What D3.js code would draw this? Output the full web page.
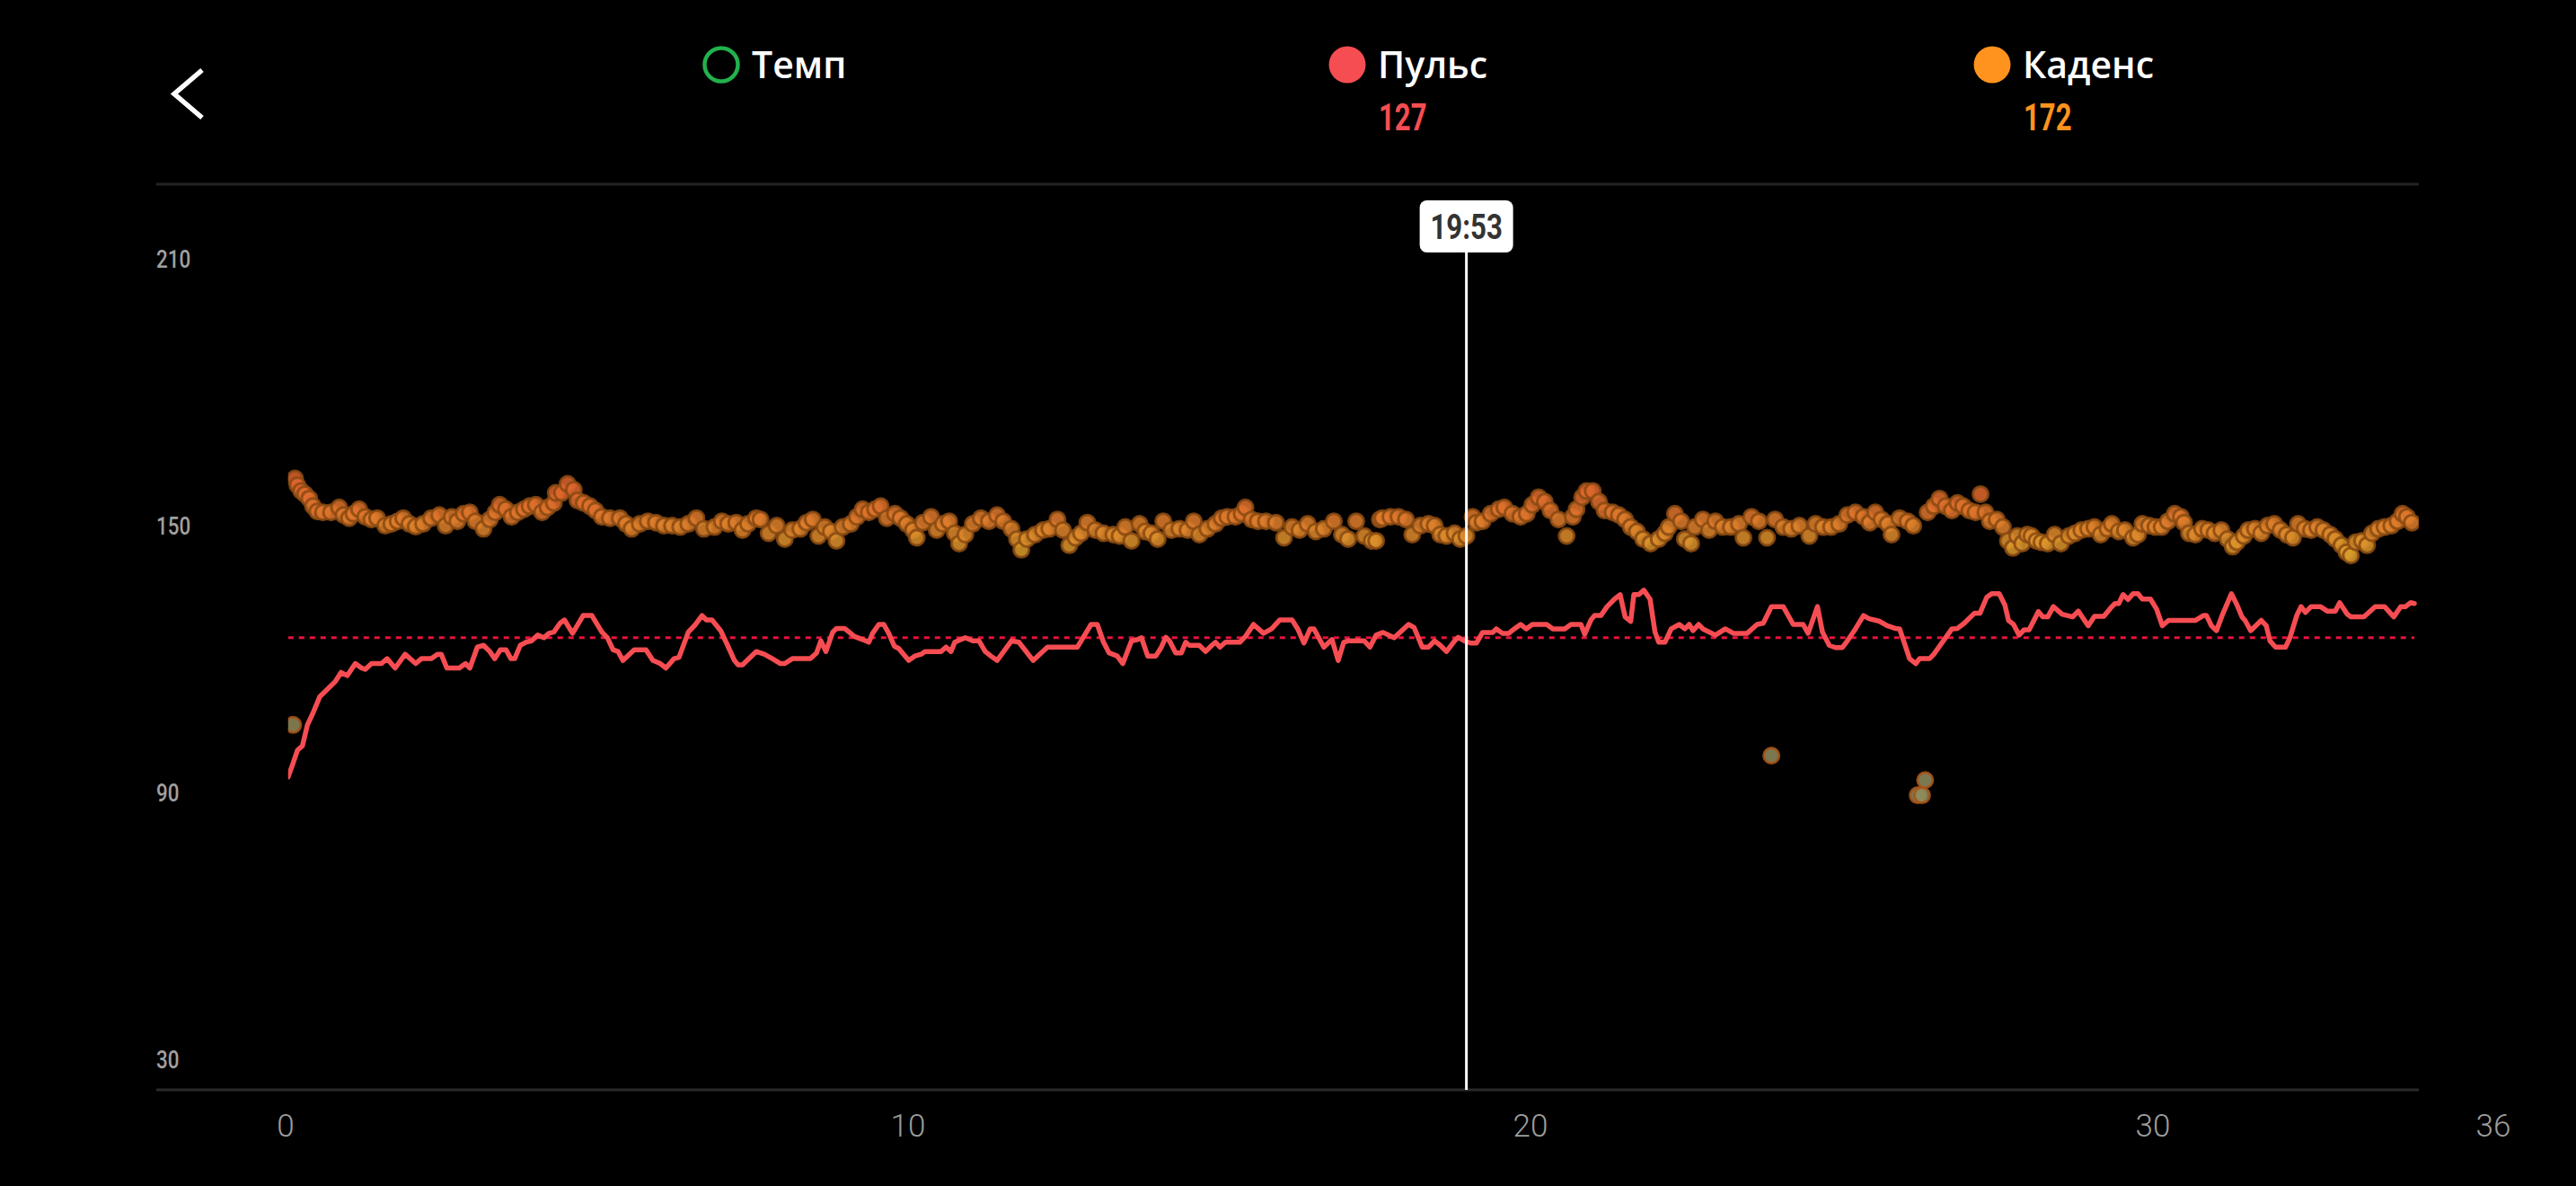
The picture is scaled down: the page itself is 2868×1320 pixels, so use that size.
<!DOCTYPE html>
<html>
<head>
<meta charset="utf-8">
<script src="https://cdn.jsdelivr.net/npm/d3@7/dist/d3.min.js"></script>
<style>
  html, body { margin: 0; padding: 0; background: #000; }
  svg { display: block; }
</style>
</head>
<body>
<svg id="chart" width="2868" height="1320"></svg>
<script>
// ---------------- DATA ----------------
const legendNames = ["Темп", "Пульс", "Каденс"];
const legendValues = [null, 127, 172];
const yTicks = [30, 90, 150, 210];
const xTicks = [0, 10, 20, 30, 36];
const cursorTime = 18.97;
const cursorLabel = "19:53";
const pulseAverage = 126.6;

// Пульс: [minute, bpm]
const pulse = [
[0.04,95.3],[0.10,97.6],[0.19,101.3],[0.27,102.3],[0.35,107.0],[0.44,109.7],[0.55,113.4],[0.64,114.6],[0.80,116.8],[0.89,118.8],[0.99,118.1],[1.12,120.8],[1.22,119.8],[1.28,119.5],[1.38,120.8],[1.54,120.8],[1.63,121.9],[1.76,119.8],[1.92,122.9],[2.09,120.8],[2.18,121.9],[2.34,121.9],[2.44,122.9],[2.50,122.9],[2.59,119.8],[2.79,119.8],[2.89,120.8],[2.96,119.8],[3.08,124.5],[3.18,124.9],[3.28,123.5],[3.36,121.9],[3.45,123.9],[3.54,123.9],[3.62,121.9],[3.68,121.9],[3.77,124.9],[3.86,125.6],[3.95,125.9],[4.05,127.2],[4.15,126.6],[4.23,127.6],[4.31,127.9],[4.41,129.9],[4.48,130.6],[4.61,127.6],[4.78,131.6],[4.92,131.6],[5.08,127.9],[5.17,126.6],[5.26,123.9],[5.34,123.5],[5.42,121.5],[5.60,123.9],[5.79,123.9],[5.90,121.5],[6.02,120.8],[6.11,119.8],[6.24,121.9],[6.32,122.2],[6.47,127.9],[6.58,129.5],[6.69,131.6],[6.76,130.6],[6.85,130.6],[6.99,128.2],[7.10,124.9],[7.21,121.5],[7.27,120.5],[7.34,120.5],[7.56,123.5],
[7.69,122.9],[7.82,121.9],[7.95,120.8],[8.02,120.8],[8.14,121.9],[8.43,121.9],[8.53,123.2],[8.60,125.9],[8.68,123.5],[8.79,127.9],[8.85,128.7],[8.98,128.7],[9.14,126.9],[9.27,126.2],[9.37,125.6],[9.43,127.6],[9.53,129.6],[9.61,129.6],[9.69,127.6],[9.78,124.7],[9.85,124.2],[10.01,121.5],[10.11,122.5],[10.21,122.9],[10.27,123.5],[10.53,123.5],[10.61,124.5],[10.69,123.5],[10.75,125.6],[10.92,126.6],[11.04,125.9],[11.14,125.9],[11.24,123.5],[11.33,122.5],[11.43,121.5],[11.66,125.9],[11.78,125.6],[12.01,121.5],[12.24,124.5],[12.72,124.5],[12.78,125.9],[12.94,129.6],[13.04,129.6],[13.14,125.6],[13.23,123.2],[13.36,122.5],[13.45,120.8],[13.59,125.9],[13.69,126.2],[13.75,126.6],[13.85,122.5],[13.98,122.5],[14.07,124.5],[14.14,126.7],[14.20,125.9],[14.30,123.2],[14.39,123.2],[14.46,125.6],[14.52,124.9],[14.68,124.9],[14.78,123.5],[14.88,124.9],[14.94,125.6],[15.01,124.5],[15.10,125.6],[15.33,125.6],[15.42,126.9],[15.55,129.6],[15.71,127.6],[15.84,128.6],[15.97,130.6],[16.17,130.6],[16.26,128.6],[16.36,125.4],[16.46,128.6],[16.52,128.6],[16.68,124.5],[16.81,126.2],[16.91,121.5],[17.00,125.6],[17.07,125.9],[17.33,125.9],[17.42,124.5],[17.52,127.2],
[17.63,127.8],[17.81,126.6],[18.04,129.6],[18.13,128.9],[18.26,124.5],[18.36,124.5],[18.46,125.9],[18.55,124.9],[18.65,123.5],[18.78,125.9],[18.84,126.7],[18.94,125.9],[19.04,125.4],[19.13,125.4],[19.23,127.8],[19.39,127.8],[19.45,128.6],[19.55,127.6],[19.65,127.6],[19.74,128.6],[19.84,129.6],[19.93,128.6],[20.03,129.6],[20.26,129.6],[20.36,128.6],[20.55,128.6],[20.65,129.6],[20.81,129.6],[20.87,127.4],[20.97,130.6],[21.03,131.6],[21.13,131.6],[21.23,133.6],[21.35,135.3],[21.44,136.3],[21.52,131.3],[21.61,130.3],[21.66,136.3],[21.74,136.3],[21.82,137.3],[21.92,135.3],[22.00,127.9],[22.06,125.6],[22.16,125.6],[22.26,128.6],[22.39,129.6],[22.48,128.6],[22.55,129.6],[22.61,128.2],[22.70,129.6],[22.77,128.6],[22.97,127.2],[23.13,128.6],[23.26,127.6],[23.48,127.6],[23.64,129.6],[23.74,129.9],[23.87,133.6],[24.06,133.6],[24.22,129.6],[24.38,129.6],[24.46,127.6],[24.61,133.6],[24.69,127.9],[24.80,124.9],[24.90,124.4],[25.01,124.4],[25.09,125.9],[25.22,128.6],[25.35,131.6],[25.44,130.9],[25.61,130.3],[25.73,129.3],[25.86,128.7],[25.93,128.6],[26.09,121.9],[26.19,120.8],[26.25,121.9],[26.41,121.9],[26.48,122.9],[26.77,128.6],[26.86,128.7],
[26.97,129.9],[27.13,132.1],[27.22,132.1],[27.33,135.7],[27.41,136.5],[27.53,136.5],[27.62,134.0],[27.68,130.5],[27.76,129.6],[27.85,127.2],[27.93,128.4],[28.01,128.4],[28.16,132.5],[28.23,131.3],[28.31,131.3],[28.40,133.6],[28.54,131.9],[28.71,131.3],[28.80,132.6],[28.96,129.3],[29.06,131.4],[29.21,131.4],[29.32,133.3],[29.39,134.3],[29.45,134.3],[29.52,136.3],[29.60,135.2],[29.68,136.5],[29.76,136.5],[29.83,135.3],[29.96,135.3],[30.06,133.0],[30.15,129.3],[30.25,130.5],[30.68,130.5],[30.81,131.6],[30.86,131.6],[30.94,129.3],[31.02,128.2],[31.12,131.9],[31.26,136.5],[31.35,134.0],[31.43,131.3],[31.48,130.5],[31.57,128.2],[31.74,130.5],[31.82,129.3],[31.88,125.9],[31.97,124.5],[32.13,124.5],[32.20,126.6],[32.31,131.6],[32.38,133.6],[32.45,132.3],[32.54,133.6],[32.69,133.6],[32.80,132.6],[32.93,132.6],[33.00,134.5],[33.12,131.9],[33.18,131.3],[33.39,131.3],[33.57,133.6],[33.72,133.6],[33.87,131.3],[33.98,133.6],[34.06,133.6],[34.14,134.5],[34.20,134.3]
];

// Каденс: [minute, value on the chart axis]
const cadence = [
[0.15,162.4],[0.19,160.9],[0.25,159.6],[0.31,158.9],[0.38,157.9],[0.44,156.2],[0.51,155.0],[0.60,154.8],[0.73,154.8],[0.86,155.9],[0.93,154.2],[1.02,153.5],[1.09,154.5],[1.18,155.5],[1.28,153.8],[1.38,153.2],[1.47,153.5],[1.60,151.8],[1.70,152.2],[1.80,152.8],[1.89,153.5],[1.99,152.2],[2.09,151.6],[2.21,152.2],[2.34,153.5],[2.47,154.2],[2.57,151.8],[2.67,153.8],[2.76,152.8],[2.86,154.5],[2.96,154.8],[3.05,152.8],[3.18,151.1],[3.28,153.2],[3.37,154.8],[3.44,156.5],[3.54,155.5],[3.63,153.8],[3.73,154.8],[3.83,155.5],[3.92,156.2],[4.02,156.5],[4.12,154.8],[4.21,155.9],[4.31,156.9],[4.34,159.2],[4.44,159.2],[4.53,161.2],[4.63,159.9],[4.69,157.5],[4.79,156.9],[4.89,156.2],[4.98,155.2],[5.08,153.8],[5.21,153.5],[5.37,153.5],[5.47,152.2],[5.56,151.1],[5.69,152.2],[5.82,152.8],[5.95,152.5],[6.08,151.8],[6.21,151.8],[6.34,151.5],[6.47,152.2],[6.60,153.5],[6.72,151.1],[6.89,151.5],[7.01,152.8],[7.11,152.2],[7.24,152.5],[7.34,150.8],[7.43,152.2],[7.56,153.5],
[7.63,153.2],[7.76,150.1],[7.89,151.8],[8.02,148.8],[8.14,150.8],[8.27,151.1],[8.37,152.5],[8.47,153.2],[8.56,149.5],[8.66,151.5],[8.76,150.5],[8.85,148.4],[8.95,151.5],[9.08,152.2],[9.18,153.8],[9.27,155.5],[9.37,154.8],[9.47,155.5],[9.56,156.2],[9.66,153.5],[9.79,154.5],[9.88,153.5],[9.98,152.2],[10.08,150.8],[10.14,149.1],[10.24,152.5],[10.37,153.8],[10.46,150.8],[10.56,152.2],[10.66,152.8],[10.75,150.1],[10.82,147.8],[10.92,149.8],[11.04,152.2],[11.17,153.5],[11.30,152.8],[11.43,154.2],[11.53,152.8],[11.66,151.1],[11.75,148.8],[11.82,146.4],[11.91,148.8],[12.04,149.8],[12.17,150.8],[12.27,151.1],[12.40,153.2],[12.49,150.8],[12.59,147.4],[12.69,149.1],[12.78,150.1],[12.88,152.5],[13.01,150.8],[13.14,150.1],[13.30,149.8],[13.40,149.5],[13.49,151.5],[13.59,148.4],[13.72,152.2],[13.81,150.5],[13.91,150.1],[14.01,148.8],[14.10,152.8],[14.23,150.8],[14.36,151.1],[14.49,150.8],[14.59,152.8],[14.68,149.8],[14.81,151.1],[14.94,152.2],[15.04,153.5],[15.13,153.8],[15.26,153.8],[15.36,154.5],[15.42,155.9],[15.52,153.2],[15.62,152.8],[15.75,152.8],[15.91,152.5],[16.04,149.1],[16.17,151.5],[16.29,150.8],[16.42,152.2],[16.55,150.5],[16.68,151.1],[16.84,152.8],[16.97,149.8],[17.07,148.8],[17.20,152.8],[17.33,149.5],[17.45,148.4],[17.58,153.2],
[17.52,148.4],[17.62,153.5],[17.75,153.8],[17.88,153.8],[18.00,153.2],[18.10,149.8],[18.23,151.8],[18.36,152.2],[18.46,151.8],[18.55,149.8],[18.65,149.5],[18.78,150.1],[18.87,148.8],[18.97,149.5],[19.07,153.8],[19.13,152.5],[19.23,152.8],[19.36,154.5],[19.49,155.5],[19.58,155.9],[19.71,154.5],[19.84,153.8],[19.94,154.5],[20.03,156.5],[20.13,158.2],[20.23,157.2],[20.32,155.2],[20.45,153.2],[20.58,149.5],[20.68,153.8],[20.74,155.5],[20.83,158.2],[20.90,159.6],[21.00,159.6],[21.10,157.2],[21.19,155.2],[21.32,154.8],[21.42,154.2],[21.52,153.2],[21.61,151.5],[21.71,150.5],[21.81,148.8],[21.93,147.8],[22.06,148.8],[22.16,150.1],[22.22,151.5],[22.32,154.5],[22.42,152.8],[22.48,148.8],[22.58,147.8],[22.64,151.5],[22.77,153.2],[22.87,150.8],[22.97,152.8],[23.09,151.5],[23.22,151.5],[23.35,152.2],[23.42,149.1],[23.55,153.8],[23.67,152.8],[23.80,149.1],[23.93,153.2],[24.06,151.5],[24.19,151.1],[24.32,151.8],[24.48,149.5],[24.58,152.2],[24.70,151.5],[24.83,151.5],[24.96,152.2],[25.09,154.2],[25.22,154.8],[25.35,153.8],[25.45,152.5],[25.54,154.8],[25.64,153.2],[25.74,152.2],[25.80,149.8],[25.93,153.5],[26.06,152.8],[26.15,151.8],
[26.38,154.8],[26.48,156.2],[26.57,157.9],[26.67,156.2],[26.77,155.2],[26.86,156.9],[26.95,156.2],[27.05,155.2],[27.15,154.8],[27.23,158.9],[27.31,154.8],[27.38,152.8],[27.49,153.2],[27.59,151.5],[27.67,148.4],[27.75,146.8],[27.82,149.5],[27.90,147.8],[27.98,149.8],[28.05,149.5],[28.13,148.4],[28.21,148.1],[28.31,147.8],[28.42,149.8],[28.52,147.8],[28.65,149.5],[28.75,150.1],[28.85,150.8],[28.96,151.1],[29.06,151.5],[29.16,149.8],[29.27,151.1],[29.34,152.2],[29.45,150.5],[29.55,150.8],[29.68,149.1],[29.76,149.8],[29.83,152.2],[29.94,151.8],[30.04,151.5],[30.14,151.5],[30.24,152.8],[30.35,154.5],[30.45,153.8],[30.50,152.5],[30.58,150.1],[30.68,149.8],[30.79,151.1],[30.89,150.8],[30.99,150.1],[31.10,150.8],[31.20,148.8],[31.28,147.1],[31.35,148.1],[31.46,149.5],[31.53,150.8],[31.64,151.1],[31.74,150.1],[31.84,151.8],[31.95,152.2],[32.05,150.8],[32.15,149.8],[32.25,149.1],[32.33,152.2],[32.44,151.1],[32.54,150.8],[32.64,151.5],[32.74,150.8],[32.85,149.8],[32.93,148.8],[33.03,147.4],[33.11,145.8],[33.18,145.1],[33.26,148.1],[33.36,148.4],[33.44,147.4],[33.52,150.1],[33.62,151.1],[33.72,151.5],[33.83,151.8],[33.93,152.8],[34.01,154.5],[34.08,153.8],[34.16,152.5]
];
// Каденс: isolated low readings
const cadenceOutliers = [[0.12,107.0],[23.87,100.1],[26.22,91.2],[26.29,91.2],[26.34,94.6]];

// ---------------- LAYOUT ----------------
const svg = d3.select("#chart");
const W = 2868, H = 1320;
svg.append("rect").attr("width", W).attr("height", H).attr("fill", "#000");

const plotLeft = 174, plotRight = 2693, plotTop = 205, plotBottom = 1213;
const x = d3.scaleLinear().domain([0, 30]).range([318, 2397]);
const y = d3.scaleLinear().domain([30, 210]).range([1188, 297]);
const narrowFont = "Roboto, 'Liberation Sans', sans-serif";

// header: back chevron
svg.append("path")
  .attr("d", "M225,78 L194,104.5 L225,131")
  .attr("fill", "none").attr("stroke", "#fff").attr("stroke-width", 5.5)
  .attr("stroke-linejoin", "miter").attr("stroke-linecap", "butt");

// legend
const legendX = [803, 1500, 2218];
const legendColors = ["#22b14c", "#f64d52", "#ff931e"];
const valueColors = [null, "#f64d52", "#ff931e"];
legendNames.forEach((name, i) => {
  const g = svg.append("g").attr("transform", `translate(${legendX[i]},72)`);
  if (i === 0) {
    g.append("circle").attr("r", 18.5).attr("fill", "none").attr("stroke", legendColors[i]).attr("stroke-width", 4.5);
  } else {
    g.append("circle").attr("r", 20.5).attr("fill", legendColors[i]);
  }
  g.append("text").attr("x", 34).attr("y", 15)
    .attr("font-family", "'Open Sans', 'DejaVu Sans', sans-serif")
    .attr("font-weight", 600).attr("font-size", 41).attr("fill", "#fff")
    .text(name);
  if (legendValues[i] != null) {
    g.append("g").attr("transform", "translate(35,73) scale(0.74,1)")
      .append("text")
      .attr("font-family", narrowFont).attr("font-weight", 700).attr("font-size", 42)
      .attr("fill", valueColors[i])
      .text(legendValues[i]);
  }
});

// separator line
svg.append("line").attr("x1", plotLeft).attr("x2", plotRight).attr("y1", plotTop).attr("y2", plotTop)
  .attr("stroke", "#242424").attr("stroke-width", 3);

// Y axis
const yAxis = d3.axisRight(y).tickValues(yTicks).tickSize(0).tickPadding(0).tickFormat(d3.format("d"));
const gy = svg.append("g").attr("transform", `translate(${plotLeft},0)`).call(yAxis);
gy.select(".domain").remove();
gy.selectAll("text").attr("dy", 0).attr("x", 0).attr("transform", "scale(0.8,1)")
  .attr("font-family", narrowFont).attr("font-size", 28).attr("font-weight", 500).attr("fill", "#a0a0a0");

// X axis
const xAxis = d3.axisBottom(x).tickValues(xTicks).tickSize(0).tickFormat(d3.format("d"));
const gx = svg.append("g").attr("transform", `translate(0,${plotBottom})`).call(xAxis);
gx.select(".domain").remove();
gx.selectAll(".tick").attr("transform", d => `translate(${Math.min(x(d), 2776)},0)`);
gx.selectAll("text").attr("y", 52).attr("dy", 0)
  .attr("font-family", "Roboto, 'Liberation Sans', sans-serif").attr("font-weight", 300)
  .attr("font-size", 35).attr("fill", "#9d9d9d");

svg.append("line").attr("x1", plotLeft).attr("x2", plotRight).attr("y1", plotBottom).attr("y2", plotBottom)
  .attr("stroke", "#2a2a2a").attr("stroke-width", 3);

// clip
svg.append("defs").append("clipPath").attr("id", "plotClip")
  .append("rect").attr("x", x(pulse[0][0])).attr("y", plotTop)
  .attr("width", plotRight - x(pulse[0][0])).attr("height", plotBottom - plotTop);
const plot = svg.append("g").attr("clip-path", "url(#plotClip)");

// cadence dots
const cadColor = d3.scaleLinear()
  .domain([90, 110, 146, 150, 155, 162])
  .range(["#8f8f62", "#938a58", "#dc9e2a", "#df8a2c", "#e0742d", "#e0622f"])
  .clamp(true);
const allCad = cadence.concat(cadenceOutliers);
plot.append("g").selectAll("circle").data(allCad).join("circle")
  .attr("cx", d => x(d[0])).attr("cy", d => y(d[1])).attr("r", 8.5)
  .attr("fill", d => cadColor(d[1])).attr("fill-opacity", 0.85)
  .attr("stroke", d => d[1] < 120 ? "#a8561a" : "#8a4a12").attr("stroke-opacity", 0.85).attr("stroke-width", 3);

// average pulse dashed line
plot.append("line")
  .attr("x1", x(pulse[0][0])).attr("x2", x(pulse[pulse.length - 1][0]))
  .attr("y1", y(pulseAverage)).attr("y2", y(pulseAverage))
  .attr("stroke", "#e8123c").attr("stroke-width", 3).attr("stroke-dasharray", "6 6");

// pulse line
const line = d3.line().x(d => x(d[0])).y(d => y(d[1]));
plot.append("path").datum(pulse).attr("d", line)
  .attr("fill", "none").attr("stroke", "#f64d52").attr("stroke-width", 5.5)
  .attr("stroke-linejoin", "round").attr("stroke-linecap", "round");

// cursor
const cx = x(cursorTime);
svg.append("line").attr("x1", cx).attr("x2", cx).attr("y1", 281).attr("y2", plotBottom)
  .attr("stroke", "#fff").attr("stroke-width", 3);
svg.append("rect").attr("x", cx - 52).attr("y", 223).attr("width", 104).attr("height", 58)
  .attr("rx", 8).attr("fill", "#fff");
svg.append("g").attr("transform", `translate(${cx},266) scale(0.8,1)`)
  .append("text").attr("text-anchor", "middle")
  .attr("font-family", narrowFont).attr("font-size", 39).attr("font-weight", 700).attr("fill", "#333")
  .text(cursorLabel);
</script>
</body>
</html>
